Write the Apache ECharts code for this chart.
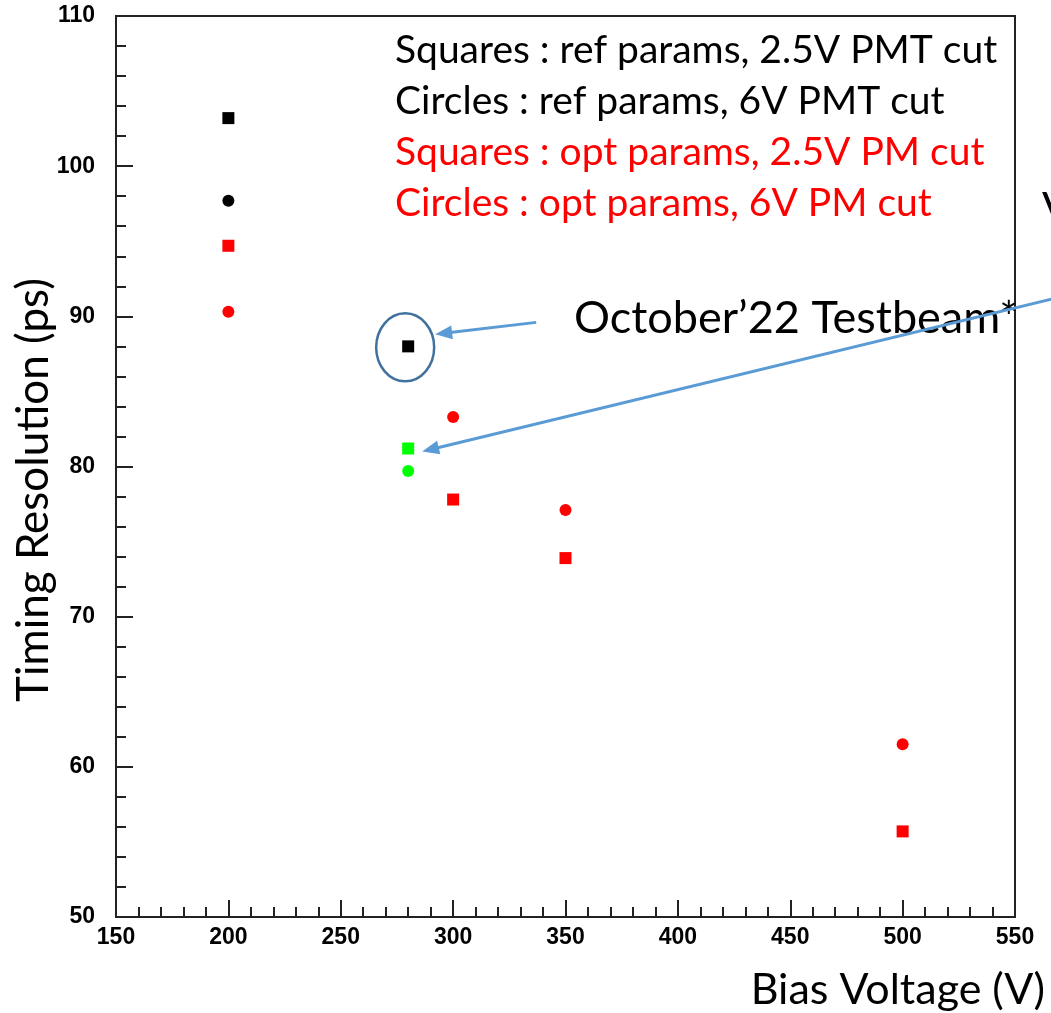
<!DOCTYPE html>
<html>
<head>
<meta charset="utf-8">
<script src="https://cdn.jsdelivr.net/npm/echarts@6/dist/echarts.min.js"></script>
<style>
  html, body { margin: 0; padding: 0; background: #fff; }
  #chart { width: 1051px; height: 1013px; }
</style>
</head>
<body>
<div id="chart"></div>
<script>
// Timing resolution vs. bias voltage
const refSquares = [[200, 103.2], [280, 88.0]];          // ref params, 2.5V PMT cut
const refCircles = [[200, 97.7]];                         // ref params, 6V PMT cut
const optSquares = [[200, 94.7], [300, 77.8], [350, 73.9], [500, 55.7]]; // opt params, 2.5V PM cut
const optCircles = [[200, 90.3], [300, 83.3], [350, 77.1], [500, 61.5]]; // opt params, 6V PM cut
const tbSquares = [[280, 81.2]];                          // testbeam, squares
const tbCircles = [[280, 79.7]];                          // testbeam, circles

const xRange = [150, 550];
const yRange = [50, 110];
const xStep = 50;
const yStep = 10;

const legendLines = [
  { text: 'Squares : ref params, 2.5V PMT cut', color: '#000000' },
  { text: 'Circles : ref params, 6V PMT cut', color: '#000000' },
  { text: 'Squares : opt params, 2.5V PM cut', color: '#ff0000' },
  { text: 'Circles : opt params, 6V PM cut', color: '#ff0000' }
];
const testbeamNote = 'October\u201922 Testbeam*';
const xTitle = 'Bias Voltage (V)';
const yTitle = 'Timing Resolution (ps)';

const TEXT_FONT = 'Lato, "Open Sans", sans-serif';
const TICK_FONT = '"Liberation Sans", Arial, sans-serif';
const ARROW = '#5b9bd5';
const FRAME = '#222';

const chart = echarts.init(document.getElementById('chart'), null, { renderer: 'canvas' });

function pts(color, symbol, data, size) {
  return {
    type: 'scatter', data: data, symbol: symbol, symbolSize: size,
    itemStyle: { color: color, opacity: 1 }, silent: true, z: 5
  };
}

const axisCommon = {
  axisLine: { show: true, onZero: false, lineStyle: { color: FRAME, width: 2 } },
  axisTick: { show: true, inside: true, length: 17, lineStyle: { color: FRAME, width: 2 } },
  minorTick: { show: true, splitNumber: 5, length: 10, lineStyle: { color: FRAME, width: 2 } },
  splitLine: { show: false },
  axisLabel: { color: '#000', fontFamily: TICK_FONT, fontWeight: 'bold', fontSize: 23 }
};

chart.setOption({
  animation: false,
  backgroundColor: '#fff',
  grid: { left: 116, top: 16, right: 36, bottom: 96, show: true, borderColor: FRAME, borderWidth: 2 },
  xAxis: Object.assign({
    type: 'value', min: xRange[0], max: xRange[1], interval: xStep
  }, axisCommon, { axisLabel: Object.assign({}, axisCommon.axisLabel, { margin: 9 }) }),
  yAxis: Object.assign({
    type: 'value', min: yRange[0], max: yRange[1], interval: yStep
  }, axisCommon, { axisLabel: Object.assign({}, axisCommon.axisLabel, { margin: 21 }) }),
  series: [
    pts('#000000', 'rect', refSquares, 12),
    pts('#000000', 'circle', refCircles, 12),
    pts('#ff0000', 'rect', optSquares, 12),
    pts('#ff0000', 'circle', optCircles, 12),
    pts('#00ff00', 'rect', tbSquares, 12),
    pts('#00ff00', 'circle', tbCircles, 12)
  ]
});

// straight arrow ending at (tx, ty) coming from (sx, sy)
function arrow(sx, sy, tx, ty) {
  const dx = tx - sx, dy = ty - sy;
  const len = Math.sqrt(dx * dx + dy * dy);
  const ux = dx / len, uy = dy / len;
  const headLen = 17, headHalf = 7;
  const bx = tx - ux * headLen, by = ty - uy * headLen;
  return [
    { type: 'line', shape: { x1: sx, y1: sy, x2: bx + ux * 2, y2: by + uy * 2 },
      style: { stroke: ARROW, lineWidth: 3 }, z: 20 },
    { type: 'polygon', shape: { points: [[tx, ty], [bx - uy * headHalf, by + ux * headHalf], [bx + uy * headHalf, by - ux * headHalf]] },
      style: { fill: ARROW }, z: 20 }
  ];
}

// annotations anchored to data points
const pRef = chart.convertToPixel({ gridIndex: 0 }, refSquares[1]);
const pTb = chart.convertToPixel({ gridIndex: 0 }, tbSquares[0]);

const graphics = [];
legendLines.forEach(function (l, i) {
  graphics.push({
    type: 'text', x: 395, y: 50 + i * 51,
    style: { text: l.text, fill: l.color, font: '39px ' + TEXT_FONT, textAlign: 'left', textVerticalAlign: 'middle' },
    z: 10
  });
});
graphics.push({
  type: 'text', x: 574, y: 318,
  style: { text: testbeamNote, fill: '#000', font: '45px ' + TEXT_FONT, textAlign: 'left', textVerticalAlign: 'middle' },
  z: 10
});
graphics.push({
  type: 'text', x: 1042, y: 210,
  style: { text: 'V', fill: '#000', font: '44px ' + TEXT_FONT, textAlign: 'left', textVerticalAlign: 'middle' },
  z: 10
});
graphics.push({
  type: 'ellipse', shape: { cx: pRef[0] - 3, cy: pRef[1] + 1, rx: 29, ry: 34 },
  style: { fill: 'none', stroke: '#41719c', lineWidth: 2.5 }, z: 20
});
Array.prototype.push.apply(graphics, arrow(pRef[0] + 128, pRef[1] - 24, pRef[0] + 27, pRef[1] - 12));
Array.prototype.push.apply(graphics, arrow(pTb[0] + 700, pTb[1] - 163, pTb[0] + 14, pTb[1] + 3));
graphics.push({
  type: 'text', x: 1045, y: 990,
  style: { text: xTitle, fill: '#000', font: '43px ' + TEXT_FONT, textAlign: 'right', textVerticalAlign: 'middle' },
  z: 10
});
graphics.push({
  type: 'text', x: 34, y: 490, rotation: Math.PI / 2,
  style: { text: yTitle, fill: '#000', font: '44px ' + TEXT_FONT, textAlign: 'center', textVerticalAlign: 'middle' },
  z: 10
});

chart.setOption({ graphic: { elements: graphics } });
</script>
</body>
</html>
